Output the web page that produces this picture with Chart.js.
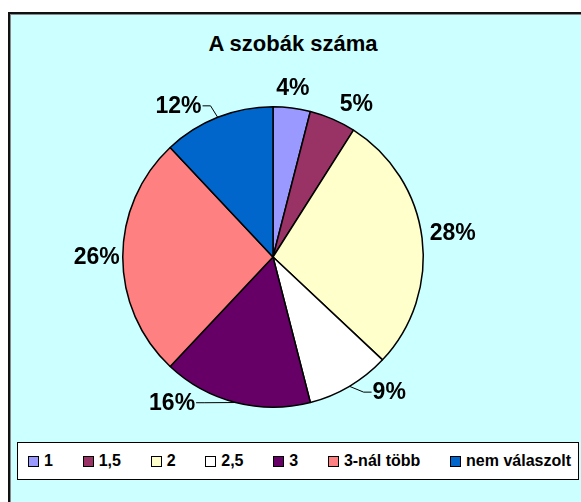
<!DOCTYPE html>
<html>
<head>
<meta charset="utf-8">
<script src="https://cdn.jsdelivr.net/npm/chart.js@4/dist/chart.umd.min.js"></script>
<style>
  body { margin: 0; background: #fff; font-family: "Liberation Sans", Arial, sans-serif; }
  #wrap { position: relative; width: 581px; height: 502px; overflow: hidden; }
  #frame { position: absolute; left: 8px; top: 12px; width: 600px; height: 520px;
           background: #CCFFFF; border: 2px solid #111; box-shadow: inset 1px 1px 0 #888; }
  #title { position: absolute; left: 8px; width: 570px; top: 31px; text-align: center;
           font-weight: bold; font-size: 22px; color: #000; }
  canvas { position: absolute; left: 0; top: 0; }
  #legend { position: absolute; left: 17px; top: 442px; height: 36px;
            background: #fff; border: 1px solid #000; display: flex; align-items: center;
            justify-content: space-between; padding: 0 7px 0 10px; box-sizing: content-box;
            width: 543px; font-weight: bold; font-size: 16px; }
  .item { display: flex; align-items: center; }
  .box { width: 9px; height: 9px; border: 1.5px solid #000; margin-right: 5px; }
</style>
</head>
<body>
<div id="wrap">
  <div id="frame"></div>
  <div id="title">A szobák száma</div>
  <canvas id="pie" width="581" height="502"></canvas>
  <div id="legend"></div>
</div>
<script>
const categories = ["1", "1,5", "2", "2,5", "3", "3-nál több", "nem válaszolt"];
const shares = [4, 5, 28, 9, 16, 26, 12];
const sliceColors = ["#9999FF", "#993366", "#FFFFCC", "#FFFFFF", "#660066", "#FF8080", "#0066CC"];

// label placement: [angle shift in degrees, distance outside the rim, leader line?]
const labelNudge = [[-0.5, 20, false], [5.2, 24, false], [-0.4, 31, false], [-10.1, 28, true],
                    [20.3, 27, true], [0, 26, false], [-10.4, 28, true]];

const legend = document.getElementById("legend");
categories.forEach((c, i) => {
  let item = document.createElement("div");
  item.className = "item";
  item.innerHTML = `<span class="box" style="background:${sliceColors[i]}"></span><span>${c}</span>`;
  legend.appendChild(item);
});

const percentLabels = {
  id: "percentLabels",
  afterDatasetsDraw(chart) {
    const ctx = chart.ctx;
    const arcs = chart.getDatasetMeta(0).data;
    ctx.save();
    ctx.font = "bold 23px 'Liberation Sans', Arial, sans-serif";
    ctx.fillStyle = "#000";
    ctx.strokeStyle = "#000";
    ctx.lineWidth = 1;
    ctx.textAlign = "center";
    ctx.textBaseline = "middle";
    arcs.forEach((arc, i) => {
      const mid = (arc.startAngle + arc.endAngle) / 2;
      const a = mid + labelNudge[i][0] * Math.PI / 180;
      const d = arc.outerRadius + labelNudge[i][1];
      const lx = arc.x + d * Math.cos(a);
      const ly = arc.y + d * Math.sin(a);
      const text = shares[i] + "%";
      ctx.fillText(text, lx, ly + 1);
      if (labelNudge[i][2]) {
        const px = arc.x + arc.outerRadius * Math.cos(mid);
        const py = arc.y + arc.outerRadius * Math.sin(mid);
        const half = ctx.measureText(text).width / 2 + 1;
        const side = px > lx ? 1 : -1;
        const ex = lx + side * half;
        ctx.beginPath();
        ctx.moveTo(ex, ly);
        ctx.lineTo(ex + side * 8, ly);
        ctx.lineTo(px, py);
        ctx.stroke();
      }
    });
    ctx.restore();
  }
};

new Chart(document.getElementById("pie"), {
  type: "pie",
  data: {
    labels: categories,
    datasets: [{
      data: shares,
      backgroundColor: sliceColors,
      borderColor: "#000",
      borderWidth: 1.5
    }]
  },
  options: {
    responsive: false,
    animation: false,
    layout: { padding: { left: 122, right: 157, top: 106, bottom: 94 } },
    plugins: {
      legend: { display: false },
      title: { display: false },
      tooltip: { enabled: false }
    }
  },
  plugins: [percentLabels]
});
</script>
</body>
</html>
